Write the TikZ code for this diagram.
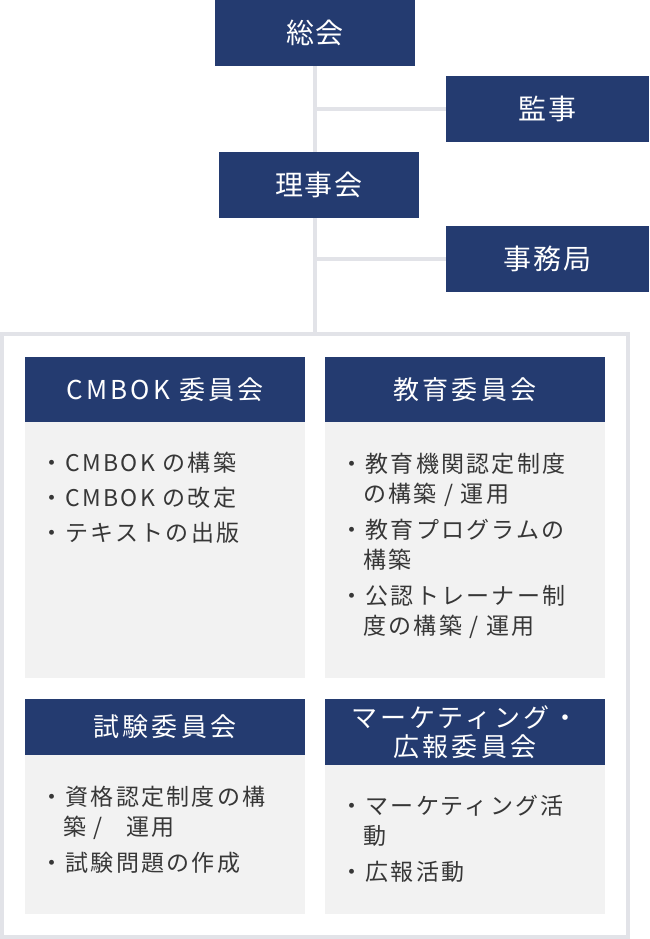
\documentclass[tikz,border=0pt]{standalone}
\usepackage{fontspec}
\setmainfont{Noto Sans CJK JP}
\newfontfamily\topfont[LetterSpace=7]{Noto Sans CJK JP}
\newfontfamily\hdfont[LetterSpace=12]{Noto Sans CJK JP}
\newfontfamily\bodyfont[LetterSpace=10]{Noto Sans CJK JP}
\definecolor{navy}{RGB}{36,59,112}
\definecolor{bodybg}{RGB}{242,242,242}
\definecolor{linegray}{RGB}{226,227,232}
\definecolor{bodytext}{RGB}{55,55,55}
\tikzset{
  topbox/.style={fill=navy, text=white, inner sep=0pt, minimum height=66,
    font=\topfont\fontsize{28}{30}\selectfont},
  hdbox/.style={fill=navy, text=white, inner sep=0pt, minimum width=280,
    align=center, font=\hdfont\fontsize{26}{29}\selectfont},
  bodybox/.style={fill=bodybg, inner sep=0pt, minimum width=280},
  conn/.style={draw=linegray, line width=4pt},
  itemtext/.style={anchor=base west, inner sep=0pt, text=bodytext,
    font=\bodyfont\fontsize{23}{30}\selectfont},
}
\begin{document}
\begin{tikzpicture}[x=1pt,y=-1pt]
\useasboundingbox (0,0) rectangle (649,939);
% frame
\node[draw=linegray, line width=4pt, inner sep=0pt, minimum width=626, minimum height=603] (frame) at (315,635.5) {};
% top boxes
\node[topbox, minimum width=200] (soukai) at (315,33) {総会};
\node[topbox, minimum width=203] (kansa) at (547.5,109) {監事};
\node[topbox, minimum width=200] (riji) at (319,185) {理事会};
\node[topbox, minimum width=203] (jimu) at (547.5,259) {事務局};
\draw[conn] (soukai.south) -- (soukai.south |- riji.north);
\draw[conn] (soukai.south |- riji.south) -- (frame.north);
\draw[conn] (kansa.west) -- (kansa.west -| soukai.south);
\draw[conn] (jimu.west) -- (jimu.west -| soukai.south);
% committees
\node[hdbox, minimum height=65] (h1) at (165,389.5) {CMBOK 委員会};
\node[bodybox, minimum height=256] (b1) at (165,550) {};
\node[hdbox, minimum height=65] (h2) at (465,389.5) {教育委員会};
\node[bodybox, minimum height=256] (b2) at (465,550) {};
\node[hdbox, minimum height=56] (h3) at (165,727) {試験委員会};
\node[bodybox, minimum height=159] (b3) at (165,834.5) {};
\node[hdbox, minimum height=66] (h4) at (465,732) {マーケティング・\\広報委員会};
\node[bodybox, minimum height=149] (b4) at (465,839.5) {};
% items CMBOK
\node[itemtext] (a1) at (40,471.5) {・CMBOK の構築};
\node[itemtext] (a2) at (40,506.5) {・CMBOK の改定};
\node[itemtext] (a3) at (40,541.5) {・テキストの出版};
% items education
\node[itemtext] (e1) at (340,472.5) {・教育機関認定制度};
\node[itemtext] (e2) at (340,502.5) {\hphantom{・}の構築 / 運用};
\node[itemtext] (e3) at (340,538.5) {・教育プログラムの};
\node[itemtext] (e4) at (340,568.5) {\hphantom{・}構築};
\node[itemtext] (e5) at (340,604.5) {・公認トレーナー制};
\node[itemtext] (e6) at (340,634.5) {\hphantom{・}度の構築 / 運用};
% items exam
\node[itemtext] (x1) at (40,805.5) {・資格認定制度の構};
\node[itemtext] (x2) at (40,835.5) {\hphantom{・}築 /\hspace{24pt}運用};
\node[itemtext] (x3) at (40,871.5) {・試験問題の作成};
% items marketing
\node[itemtext] (m1) at (340,814.5) {・マーケティング活};
\node[itemtext] (m2) at (340,844.5) {\hphantom{・}動};
\node[itemtext] (m3) at (340,880.5) {・広報活動};
\end{tikzpicture}
\end{document}
